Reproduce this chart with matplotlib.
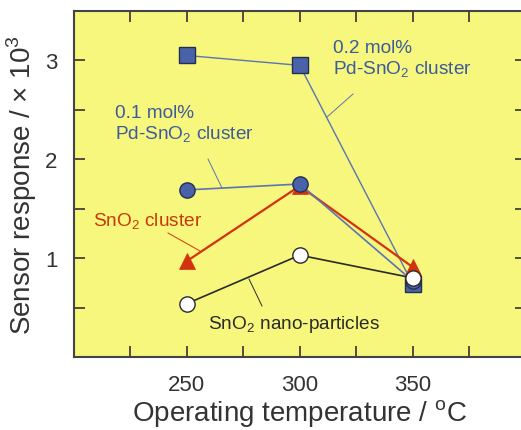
import matplotlib
matplotlib.use("Agg")
import matplotlib.pyplot as plt
from matplotlib.ticker import MultipleLocator

plt.rcParams['font.family'] = ['Liberation Sans', 'DejaVu Sans']
plt.rcParams['mathtext.fontset'] = 'custom'
plt.rcParams['mathtext.rm'] = 'Liberation Sans'

temps = [250, 300, 350]
pd02 = [3.05, 2.95, 0.74]      # 0.2 mol% Pd-SnO2 cluster
pd01 = [1.69, 1.75, 0.77]      # 0.1 mol% Pd-SnO2 cluster
sno2_cl = [0.97, 1.73, 0.91]   # SnO2 cluster
sno2_np = [0.54, 1.03, 0.80]   # SnO2 nano-particles

blue = '#4a62aa'
red = '#d2320f'
dark = '#2a2a2a'
txt_blue = '#3d5a9c'
txt_red = '#c8380c'

fig = plt.figure(figsize=(5.21, 4.31), dpi=100)
ax = fig.add_axes([74/521, 1-358/431, (525.5-74)/521, (358-12)/431])
ax.set_facecolor('#f6f77c')

ax.plot(temps, pd02, '-', color='#5c74b4', lw=1.0, zorder=2)
ax.plot(temps, pd02, 's', ms=11, mfc=blue, mec='#22304f', mew=1.0, zorder=3)
ax.plot(temps, sno2_cl, '-', color=red, lw=1.6, zorder=4)
ax.plot(temps, sno2_cl, '^', ms=12, mfc=red, mec=red, mew=0.5, zorder=5)
ax.plot(temps, pd01, '-', color='#5c74b4', lw=1.2, zorder=6)
ax.plot(temps, pd01, 'o', ms=11, mfc=blue, mec='#22304f', mew=1.0, zorder=7)
ax.plot(temps, sno2_np, '-', color=dark, lw=1.2, zorder=8)
ax.plot(temps, sno2_np, 'o', ms=11, mfc='white', mec=dark, mew=1.0, zorder=9)

ax.set_xlim(200, 400)
ax.set_ylim(0, 3.5)
ax.xaxis.set_major_locator(MultipleLocator(50))
ax.xaxis.set_minor_locator(MultipleLocator(25))
ax.yaxis.set_major_locator(MultipleLocator(1))
ax.yaxis.set_minor_locator(MultipleLocator(0.5))
ax.set_xticks([250, 300, 350])
ax.set_yticks([1, 2, 3])
ax.tick_params(which='both', direction='in', top=True, right=True,
               length=8, width=1.2, color='#333333', labelsize=16,
               labelcolor='#333333', pad=12)
for s in ax.spines.values():
    s.set_color('#444444')
    s.set_linewidth(1.5)

ax.set_xlabel('Operating temperature / $^{\\mathrm{o}}$C', fontsize=20,
              color='#333333', labelpad=2)
ax.set_ylabel('Sensor response / \u00d7 10$^{3}$', fontsize=20,
              color='#333333', labelpad=4)

# annotations with leader lines (figure pixel coordinates -> data)
def px(x, y):
    inv = ax.transData.inverted()
    return inv.transform((x, 431 - y))

fig.canvas.draw()
ax.text(*px(333, 60), '0.2 mol%\nPd-SnO$_2$ cluster', color=txt_blue,
        fontsize=13.7, va='center', ha='left', linespacing=1.2)
ax.text(*px(115, 125), '0.1 mol%\nPd-SnO$_2$ cluster', color=txt_blue,
        fontsize=13.7, va='center', ha='left', linespacing=1.2)
ax.text(*px(93, 222), 'SnO$_2$ cluster', color=txt_red,
        fontsize=13.7, va='center', ha='left')
ax.text(*px(208, 325), 'SnO$_2$ nano-particles', color=dark,
        fontsize=13.7, va='center', ha='left')

leaders = [((353, 95), (327, 118), '#5c74b4'),
           ((208, 160), (222, 189), '#5c74b4'),
           ((168, 234), (200, 252), red),
           ((249, 280), (262, 307), dark)]
for p0, p1, c in leaders:
    a = px(*p0)
    b = px(*p1)
    ax.plot([a[0], b[0]], [a[1], b[1]], '-', color=c, lw=0.7, zorder=1)

fig.savefig('out.png', dpi=100)
